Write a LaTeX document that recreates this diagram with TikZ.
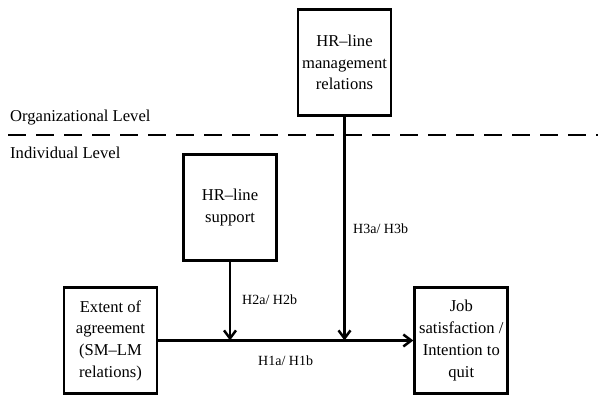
\documentclass[tikz,border=0pt]{standalone}
\usepackage{fontspec}
\setmainfont{Liberation Serif}
\usetikzlibrary{positioning,arrows.meta}

\begin{document}
\begin{tikzpicture}[x=1pt,y=1pt,
    box/.style={draw,line width=2.8pt,minimum width=93pt,minimum height=106pt,
      align=center,inner sep=2pt,font=\fontsize{16.6}{21.7}\selectfont},
    level/.style={anchor=west,inner sep=0pt,font=\fontsize{16.6}{20}\selectfont},
    hyp/.style={inner sep=0pt,font=\fontsize{14}{16}\selectfont},
    link/.style={line width=2.5pt,-{Straight Barb[length=8pt,width=12pt,line width=2.5pt]}}]
  \useasboundingbox (0,0) rectangle (598,395);

  \node[box] (agree) at (110.5,54.5) {Extent of\\agreement\\(SM--LM\\relations)};
  \node[box, right=255pt of agree] (outcome) {Job\\satisfaction /\\Intention to\\quit};
  \node[box] (support) at (230,187.5) {HR--line\\support};
  \node[box] (relations) at (344.5,332.5) {HR--line\\management\\relations};

  \coordinate (dashl) at (8,260);
  \coordinate (dashr) at (598,260);
  \draw[line width=2.8pt, dash pattern=on 18pt off 10pt] (dashl) -- (dashr);
  \node[level] (org) at (10,277) {Organizational Level};
  \node[level] (ind) at (10,242) {Individual Level};

  \draw[link] (agree) -- (outcome);
  \draw[link] (support) -- (support |- agree.east);
  \draw[link] (relations) -- (relations |- agree.east);

  \node[hyp, anchor=west] (h1) at (258,34) {H1a/ H1b};
  \node[hyp, anchor=west] (h2) at (242,95) {H2a/ H2b};
  \node[hyp, anchor=west] (h3) at (353,166) {H3a/ H3b};
\end{tikzpicture}
\end{document}
